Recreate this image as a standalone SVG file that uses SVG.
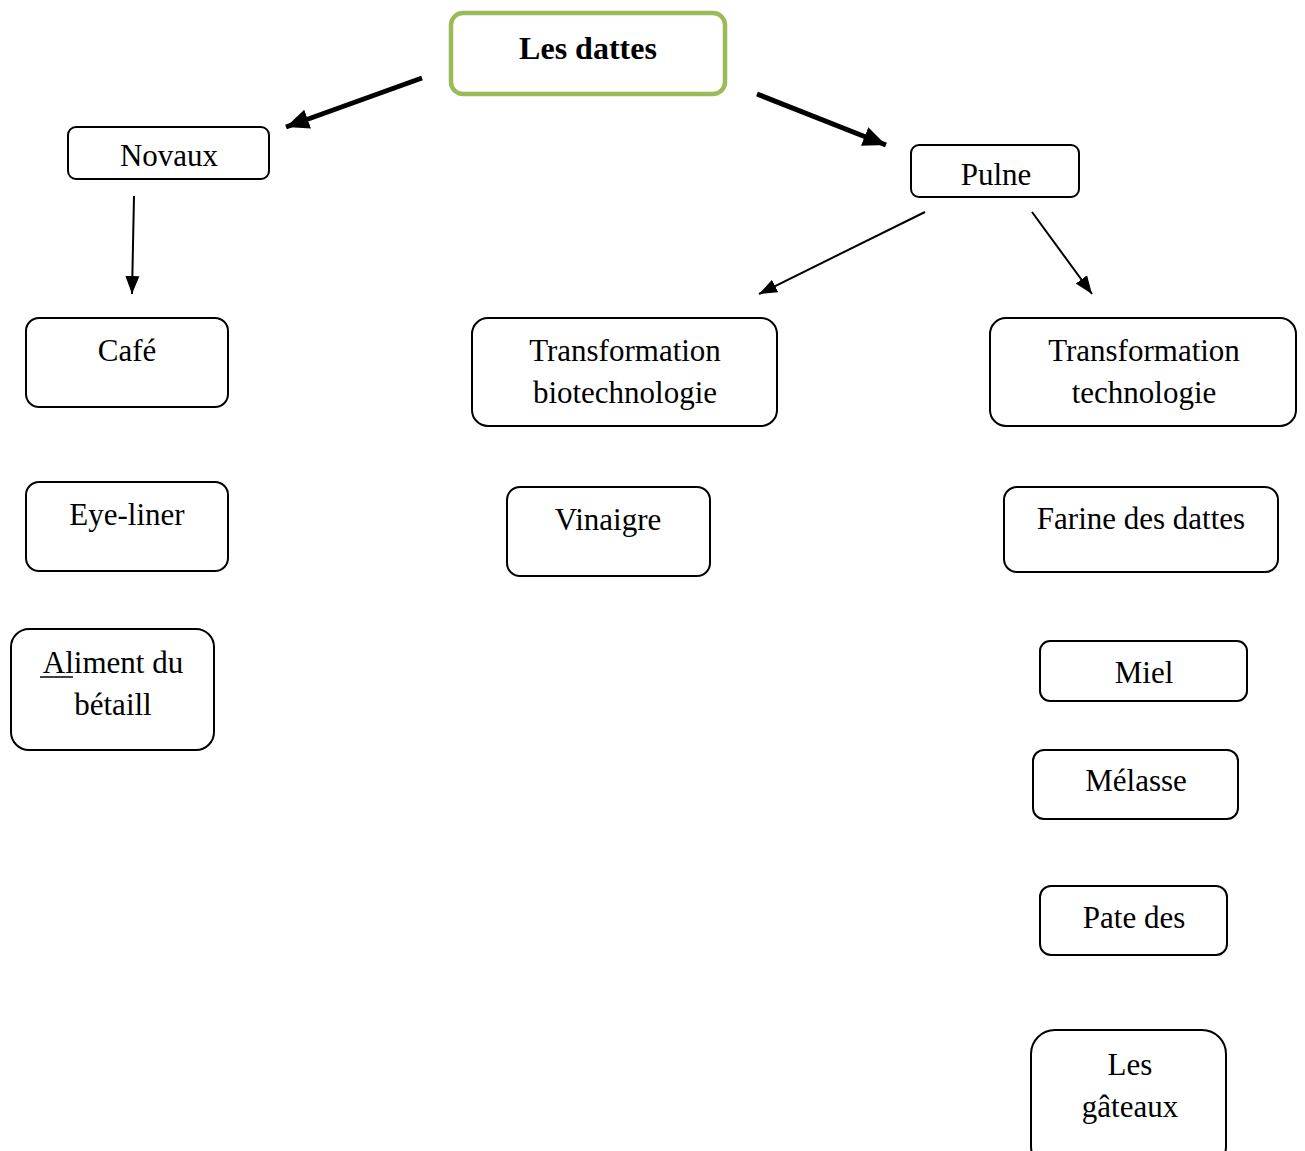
<svg xmlns="http://www.w3.org/2000/svg" width="1305" height="1151" viewBox="0 0 1305 1151">
<style>
  .box { fill: #fff; stroke: #000; stroke-width: 2; }
  .root { fill: #fff; stroke: #9BBB59; stroke-width: 4.5; }
  .t { font-family: 'Liberation Serif', 'Times New Roman', 'DejaVu Serif', serif; font-size: 31px; fill: #000; text-anchor: middle; }
  .tb { font-family: 'Liberation Serif', 'Times New Roman', 'DejaVu Serif', serif; font-size: 32px; font-weight: bold; fill: #000; text-anchor: middle; }
  .thick { stroke: #000; stroke-width: 5; fill: none; }
  .thin { stroke: #000; stroke-width: 2; fill: none; }
</style>
<defs>
  <marker id="ah-thick" markerUnits="userSpaceOnUse" markerWidth="26" markerHeight="22" refX="23" refY="11" orient="auto">
    <path d="M0,1 L23,11 L0,21 Z" fill="#000"/>
  </marker>
  <marker id="ah-thin" markerUnits="userSpaceOnUse" markerWidth="19" markerHeight="16" refX="18" refY="8" orient="auto">
    <path d="M0,1 L18,8 L0,15 Z" fill="#000"/>
  </marker>
</defs>

<g id="connectors">
  <line class="thick" x1="422" y1="78" x2="286" y2="127" marker-end="url(#ah-thick)"/>
  <line class="thick" x1="757" y1="94" x2="886" y2="145" marker-end="url(#ah-thick)"/>
  <line class="thin" x1="134" y1="196" x2="132" y2="294" marker-end="url(#ah-thin)"/>
  <line class="thin" x1="925" y1="212" x2="759" y2="294" marker-end="url(#ah-thin)"/>
  <line class="thin" x1="1032" y1="212" x2="1092" y2="294" marker-end="url(#ah-thin)"/>
</g>

<g id="nodes" font-family="'Liberation Serif', 'Times New Roman', serif">
<g id="les-dattes">
  <rect class="root" x="451" y="13" width="274" height="81" rx="12"/>
  <text class="tb" x="588" y="59">Les dattes</text>
</g>

<g id="novaux">
  <rect class="box" x="68" y="127" width="201" height="52" rx="8"/>
  <text class="t" x="169" y="166">Novaux</text>
</g>

<g id="pulpe">
  <rect class="box" x="911" y="145" width="168" height="52" rx="8"/>
  <text class="t" x="996" y="185">Pulne</text>
</g>

<g id="cafe">
  <rect class="box" x="26" y="318" width="202" height="89" rx="13"/>
  <text class="t" x="127" y="361">Café</text>
</g>

<g id="eye-liner">
  <rect class="box" x="26" y="482" width="202" height="89" rx="13"/>
  <text class="t" x="127" y="525">Eye-liner</text>
</g>

<g id="aliment">
  <rect class="box" x="11" y="629" width="203" height="121" rx="18"/>
  <text class="t" x="113" y="673">Aliment du</text>
  <line x1="40" y1="677" x2="73" y2="677" stroke="#000" stroke-width="1.5"/>
  <text class="t" x="113" y="715">bétaill</text>
</g>

<g id="transformation-bio">
  <rect class="box" x="472" y="318" width="305" height="108" rx="16"/>
  <text class="t" x="625" y="361">Transformation</text>
  <text class="t" x="625" y="403">biotechnologie</text>
</g>

<g id="vinaigre">
  <rect class="box" x="507" y="487" width="203" height="89" rx="13"/>
  <text class="t" x="608" y="530">Vinaigre</text>
</g>

<g id="transformation-tech">
  <rect class="box" x="990" y="318" width="306" height="108" rx="16"/>
  <text class="t" x="1144" y="361">Transformation</text>
  <text class="t" x="1144" y="403">technologie</text>
</g>

<g id="farine">
  <rect class="box" x="1004" y="487" width="274" height="85" rx="13"/>
  <text class="t" x="1141" y="529">Farine des dattes</text>
</g>

<g id="miel">
  <rect class="box" x="1040" y="641" width="207" height="60" rx="10"/>
  <text class="t" x="1144" y="683">Miel</text>
</g>

<g id="melasse">
  <rect class="box" x="1033" y="750" width="205" height="69" rx="11"/>
  <text class="t" x="1136" y="791">Mélasse</text>
</g>

<g id="pate">
  <rect class="box" x="1040" y="886" width="187" height="69" rx="11"/>
  <text class="t" x="1134" y="928">Pate des</text>
</g>

<g id="gateaux">
  <rect class="box" x="1031" y="1030" width="195" height="140" rx="24"/>
  <text class="t" x="1130" y="1075">Les</text>
  <text class="t" x="1130" y="1117">gâteaux</text>
</g>
</g>
</svg>
